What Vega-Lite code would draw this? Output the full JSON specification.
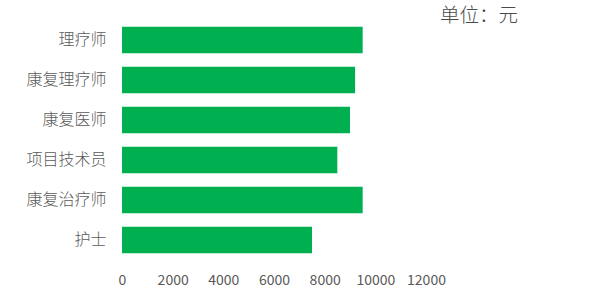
{
  "$schema": "https://vega.github.io/schema/vega-lite/v6.json",
  "autosize": "none",
  "width": 304,
  "height": 240,
  "padding": {"left": 122, "top": 20, "right": 174, "bottom": 40},
  "background": "#ffffff",
  "title": {
    "text": "单位：元",
    "anchor": "end",
    "frame": "group",
    "dx": 92,
    "dy": 18,
    "offset": 3,
    "baseline": "middle",
    "font": "Noto Sans CJK SC",
    "fontSize": 19.5,
    "fontWeight": 300,
    "color": "#4a4a4a"
  },
  "data": {
    "values": [
      {"岗位": "理疗师", "薪资": 9500},
      {"岗位": "康复理疗师", "薪资": 9200},
      {"岗位": "康复医师", "薪资": 9000},
      {"岗位": "项目技术员", "薪资": 8500},
      {"岗位": "康复治疗师", "薪资": 9500},
      {"岗位": "护士", "薪资": 7500}
    ]
  },
  "mark": {"type": "bar", "color": "#00B050"},
  "encoding": {
    "y": {
      "field": "岗位",
      "type": "nominal",
      "sort": null,
      "scale": {"paddingInner": 0.333, "paddingOuter": 0.167},
      "axis": {
        "title": null,
        "domain": false,
        "ticks": false,
        "tickSize": 0,
        "labelPadding": 16,
        "labelFont": "Noto Sans CJK SC",
        "labelFontSize": 16,
        "labelFontWeight": 300,
        "labelColor": "#595959"
      }
    },
    "x": {
      "field": "薪资",
      "type": "quantitative",
      "scale": {"domain": [0, 12000], "nice": false},
      "axis": {
        "title": null,
        "values": [0, 2000, 4000, 6000, 8000, 10000, 12000],
        "format": "d",
        "grid": false,
        "domain": false,
        "ticks": false,
        "tickSize": 0,
        "labelPadding": 13,
        "labelFont": "Noto Sans CJK SC",
        "labelFontSize": 14,
        "labelColor": "#595959",
        "labelFlush": false
      }
    }
  },
  "config": {"view": {"stroke": null}}
}
